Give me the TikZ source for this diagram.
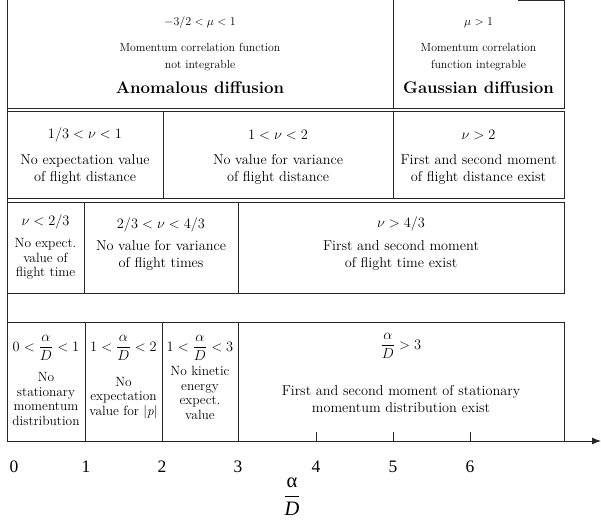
\documentclass[tikz,border=0pt]{standalone}
\usepackage{fontspec}
\newfontfamily\timesf{Liberation Serif}
\usetikzlibrary{arrows.meta}
\begin{document}
\begin{tikzpicture}[x=1pt,y=-1pt,
  frame/.style={draw=black!85, line width=1pt},
  tick/.style={draw=black!85, line width=0.7pt},
  toptxt/.style={align=center, inner sep=0pt, font=\fontsize{11.8}{17}\selectfont},
  topmath/.style={inner sep=0pt, font=\fontsize{12.5}{15}\selectfont},
  bigbold/.style={inner sep=0pt, font=\fontsize{16.8}{20}\selectfont\bfseries},
  txt/.style={align=center, inner sep=0pt, font=\fontsize{14.3}{17}\selectfont},
  narrow/.style={align=center, inner sep=0pt, font=\fontsize{13.4}{14.7}\selectfont},
  mth/.style={inner sep=0pt, font=\fontsize{14}{16}\selectfont},
  num/.style={inner sep=0pt, font=\fontsize{17.5}{19}\timesf}
]
\useasboundingbox (0,0) rectangle (601,529);

% ---------- frames ----------
\draw[frame] (518,0.5) -- (564,0.5) -- (564,109) -- (7,109);
\draw[frame] (393,0) -- (393,109);
\draw[frame] (7,112) rectangle (564,198);
\draw[frame] (163,112) -- (163,198) (393,112) -- (393,198);
\draw[frame] (7,202) rectangle (564,293);
\draw[frame] (84,202) -- (84,293) (238,202) -- (238,293);
\draw[frame] (7,322) -- (564,322) -- (564,441);
\draw[frame] (85,322) -- (85,441) (162,322) -- (162,441) (238,322) -- (238,441);
\draw[frame] (7,0) -- (7,441);

% ---------- axis ----------
\coordinate (axL) at (7,441);
\coordinate (axR) at (601,441);
\draw[frame, -{Latex[length=9pt,width=7pt]}] (axL) -- (axR);
\foreach \x/\n in {316/t4,393/t5,470/t6}{
  \coordinate (\n) at (\x,441);
  \draw[tick] (\n) -- ++(0,-9);
}
\node[num] (n0) at (14,467) {0};
\node[num] (n1) at (86,467) {1};
\node[num] (n2) at (162,467) {2};
\node[num] (n3) at (238,467) {3};
\node[num] (n4) at (316,467) {4};
\node[num] (n5) at (393,467) {5};
\node[num] (n6) at (470,467) {6};
\node[inner sep=0pt, font=\fontsize{20.5}{22}\timesf] (axlab) at (292,497)
  {$\displaystyle\frac{\hbox{\timesf α}}{\hbox{\timesf\itshape D}}$};

% ---------- row 1 ----------
\node[topmath] (r1am) at (200,23) {$-3/2<\mu<1$};
\node[toptxt] (r1at) at (200,57.5) {Momentum correlation function\\not integrable};
\node[bigbold] (r1ab) at (200,88) {Anomalous diffusion};
\node[topmath] (r1bm) at (478.5,23) {$\mu>1$};
\node[toptxt] (r1bt) at (478.5,57.5) {Momentum correlation\\function integrable};
\node[bigbold] (r1bb) at (478.5,88) {Gaussian diffusion};

% ---------- row 2 ----------
\node[mth] (r2am) at (85,135) {$1/3<\nu<1$};
\node[txt] (r2at) at (85,169.5) {No expectation value\\of flight distance};
\node[mth] (r2bm) at (278,135) {$1<\nu<2$};
\node[txt] (r2bt) at (278,169.5) {No value for variance\\of flight distance};
\node[mth] (r2cm) at (478.5,135) {$\nu>2$};
\node[txt] (r2ct) at (478.5,169.5) {First and second moment\\of flight distance exist};

% ---------- row 3 ----------
\node[mth] (r3am) at (45.5,222) {$\nu<2/3$};
\node[narrow] (r3at) at (45.5,259) {No expect.\\value of\\flight time};
\node[mth] (r3bm) at (161,225) {$2/3<\nu<4/3$};
\node[txt] (r3bt) at (161,255) {No value for variance\\of flight times};
\node[mth] (r3cm) at (401,224) {$\nu>4/3$};
\node[txt] (r3ct) at (401,256) {First and second moment\\of flight time exist};

% ---------- row 4 ----------
\node[mth] (r4am) at (46,348) {$0<\displaystyle\frac{\alpha}{D}<1$};
\node[narrow] (r4at) at (46,399) {No\\stationary\\momentum\\distribution};
\node[mth] (r4bm) at (123.5,348) {$1<\displaystyle\frac{\alpha}{D}<2$};
\node[narrow] (r4bt) at (123.5,398) {No\\expectation\\value for |\textit{p}|};
\node[mth] (r4cm) at (200,348) {$1<\displaystyle\frac{\alpha}{D}<3$};
\node[narrow] (r4ct) at (200,393) {No kinetic\\energy\\expect.\\value};
\node[mth] (r4dm) at (401,346) {$\displaystyle\frac{\alpha}{D}>3$};
\node[txt] (r4dt) at (401,399.5) {First and second moment of stationary\\momentum distribution exist};
\end{tikzpicture}
\end{document}
